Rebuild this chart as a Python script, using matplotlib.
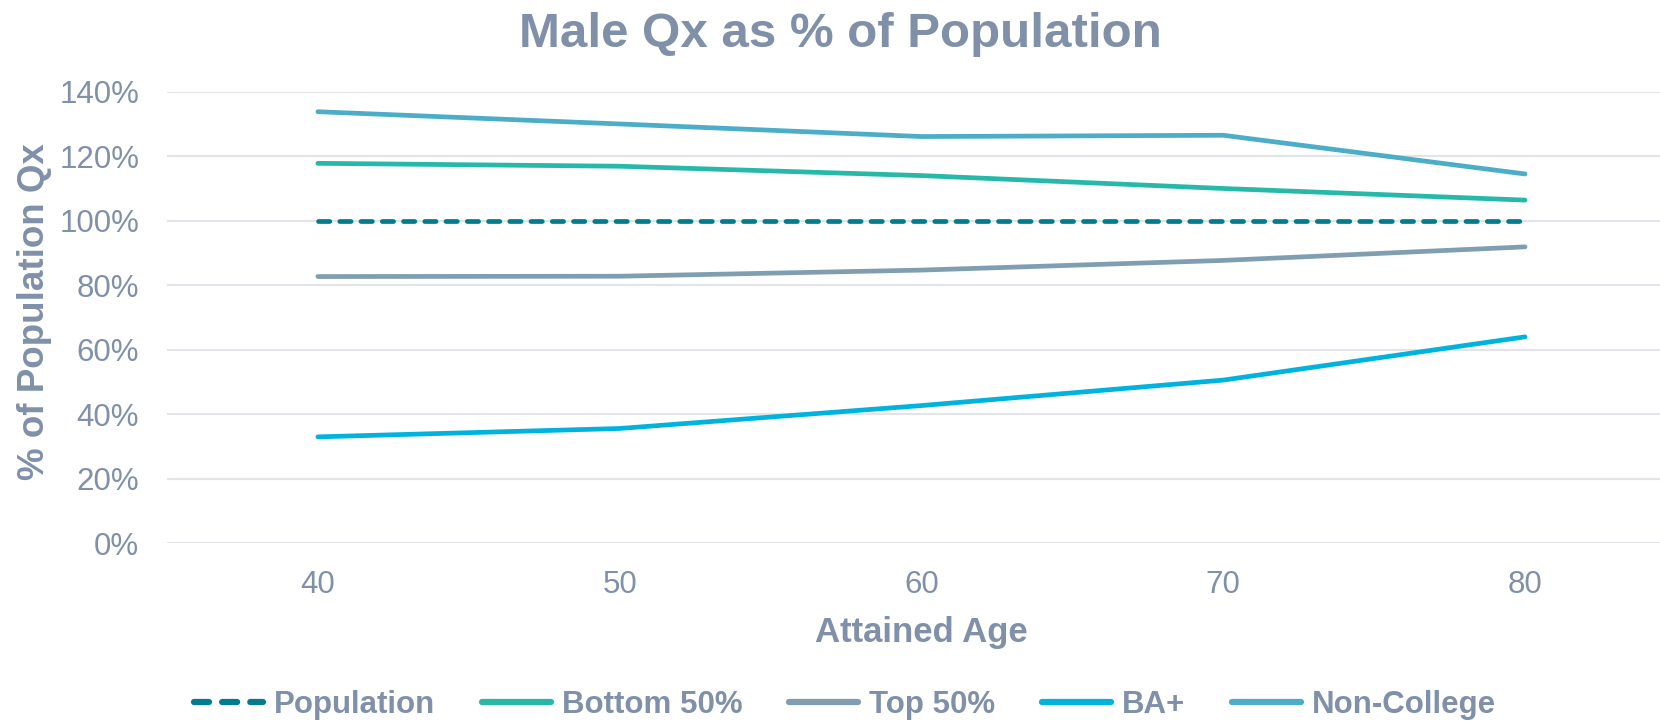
import matplotlib.pyplot as plt
from matplotlib.ticker import PercentFormatter

plt.rcParams['font.family'] = ['Liberation Sans', 'DejaVu Sans']

# attained ages and each group's qx relative to population
ages = [40, 50, 60, 70, 80]
population = [1.00, 1.00, 1.00, 1.00, 1.00]
bottom_50 = [1.178, 1.169, 1.140, 1.100, 1.064]
top_50 = [0.827, 0.828, 0.847, 0.877, 0.919]
ba_plus = [0.330, 0.356, 0.427, 0.506, 0.640]
non_college = [1.338, 1.300, 1.261, 1.265, 1.145]

text_col = '#7F90A8'
grid_col = '#E1E5EA'

fig = plt.figure(figsize=(16.6, 7.25), dpi=100)
ax = fig.add_axes([0.1006, 0.2506, 0.909, 0.6229])

lw = 3.4
ax.plot(ages, population, color='#007C8E', lw=lw, dashes=(2.4, 2.1),
        dash_capstyle='round', label='Population', zorder=3)
ax.plot(ages, bottom_50, color='#26B8A9', lw=lw, solid_capstyle='round', label='Bottom 50%')
ax.plot(ages, top_50, color='#7F9FB1', lw=lw, solid_capstyle='round', label='Top 50%')
ax.plot(ages, ba_plus, color='#00B3DD', lw=lw, solid_capstyle='round', label='BA+')
ax.plot(ages, non_college, color='#4BADC7', lw=lw, solid_capstyle='round', label='Non-College')

ax.set_xlim(35, 85)
ax.set_ylim(0, 1.4)
ax.set_xticks(ages)
ax.set_yticks([0, 0.2, 0.4, 0.6, 0.8, 1.0, 1.2, 1.4])
ax.yaxis.set_major_formatter(PercentFormatter(1.0, decimals=0))
ax.grid(axis='y', color=grid_col, lw=1.5)
ax.set_axisbelow(True)
for s in ax.spines.values():
    s.set_visible(False)
ax.tick_params(axis='both', length=0, labelsize=22.5, labelcolor=text_col)
ax.tick_params(axis='y', pad=20)
ax.tick_params(axis='x', pad=19)

ax.set_xlabel('Attained Age', fontsize=25, fontweight='bold', color=text_col, labelpad=12)
fig.text(0.021, 0.57, '% of Population Qx', rotation=90, fontsize=26.5,
         fontweight='bold', color=text_col, ha='center', va='center')

fig.text(0.506, 0.952, 'Male Qx as % of Population', fontsize=35.5,
         fontweight='bold', color=text_col, ha='center', va='center')

leg = fig.legend(loc='center', bbox_to_anchor=(0.509, 0.028), ncol=5, frameon=False,
                 handlelength=2.2, handletextpad=0.35, columnspacing=1.5,
                 prop={'size': 22.5, 'weight': 'bold'})
for t in leg.get_texts():
    t.set_color(text_col)
for h in leg.get_lines():
    h.set_linewidth(4.5)

fig.savefig('out.png', dpi=100)
